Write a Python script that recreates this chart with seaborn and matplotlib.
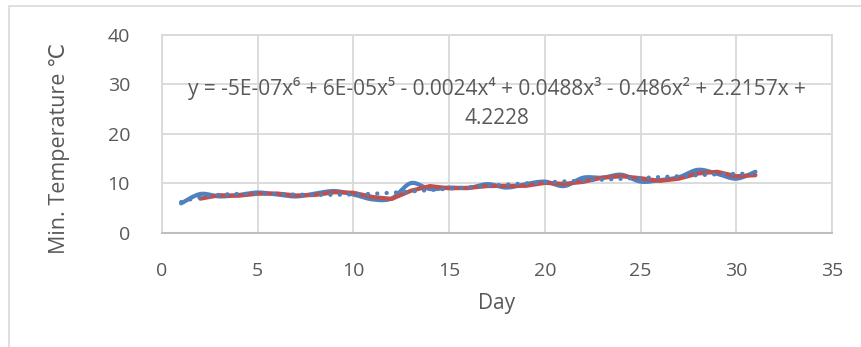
import numpy as np
import pandas as pd
import matplotlib
matplotlib.use("Agg")
import matplotlib.pyplot as plt
import seaborn as sns
from matplotlib.patches import Rectangle

# Daily minimum temperatures (°C)
days = list(range(1, 32))
min_temp = [5.9, 7.8, 7.3, 7.6, 8.1, 7.7, 7.3, 7.9, 8.4, 7.7,
            6.7, 6.9, 10.0, 8.8, 9.1, 9.0, 9.8, 9.1, 9.8, 10.3,
            9.4, 11.1, 11.1, 11.7, 10.3, 10.6, 11.2, 12.7, 11.9, 10.9,
            12.3]

x_ticks = [0, 5, 10, 15, 20, 25, 30, 35]
y_ticks = [0, 10, 20, 30, 40]
equation = ("y = -5E-07x\u2076 + 6E-05x\u2075 - 0.0024x\u2074 + 0.0488x\u00b3 - 0.486x\u00b2 + 2.2157x +\n"
            "4.2228")

BLUE = "#4F81BD"
RED = "#C0504D"
TXT = "#595959"
GRID = "#D9D9D9"
AXIS = "#BFBFBF"

sns.set_theme(style="white")
plt.rcParams["font.family"] = ["Open Sans", "DejaVu Sans"]

W, H = 862, 347
fig = plt.figure(figsize=(W / 100, H / 100), dpi=100)
ax = fig.add_axes([162 / W, (H - 232.5) / H, (832 - 162) / W, (232.5 - 35) / H])

df = pd.DataFrame({"day": days, "temp": min_temp})


def smooth_curve(x, y, n=30):
    """Catmull-Rom style Bezier smoothing through every data point."""
    x = np.asarray(x, float)
    y = np.asarray(y, float)
    px = np.concatenate([[x[0]], x, [x[-1]]])
    py = np.concatenate([[y[0]], y, [y[-1]]])
    xs, ys = [], []
    t = np.linspace(0, 1, n)[:, None]
    for i in range(1, len(px) - 2):
        p0 = np.array([px[i], py[i]])
        p3 = np.array([px[i + 1], py[i + 1]])
        c1 = p0 + (np.array([px[i + 1], py[i + 1]]) - np.array([px[i - 1], py[i - 1]])) / 6
        c2 = p3 - (np.array([px[i + 2], py[i + 2]]) - np.array([px[i], py[i]])) / 6
        pts = ((1 - t) ** 3) * p0 + 3 * ((1 - t) ** 2) * t * c1 + 3 * (1 - t) * t ** 2 * c2 + t ** 3 * p3
        xs.append(pts[:, 0])
        ys.append(pts[:, 1])
    return np.concatenate(xs), np.concatenate(ys)


sx, sy = smooth_curve(df["day"], df["temp"])
smooth_df = pd.DataFrame({"day": sx, "temp": sy})

# 2-period moving average trendline
ma_df = pd.DataFrame({"day": df["day"], "temp": df["temp"].rolling(2).mean()}).dropna()

# 6th order polynomial trendline
coef = np.polyfit(df["day"], df["temp"], 6)
fx = np.linspace(days[0], days[-1], 300)
poly_df = pd.DataFrame({"day": fx, "temp": np.polyval(coef, fx)})

sns.lineplot(data=smooth_df, x="day", y="temp", sort=False, estimator=None,
             color=BLUE, lw=3.0, ax=ax, solid_capstyle="round", zorder=3)
sns.lineplot(data=ma_df, x="day", y="temp", sort=False, estimator=None,
             color=RED, lw=3.0, ax=ax, zorder=4)
sns.lineplot(data=poly_df, x="day", y="temp", sort=False, estimator=None,
             color=BLUE, lw=3.0, ax=ax, zorder=5,
             linestyle=(0, (0.05, 2.2)), dash_capstyle="round")

ax.set_xlim(0, 35)
ax.set_ylim(0, 40)
ax.set_xticks(x_ticks)
ax.set_yticks(y_ticks)
ax.set_xticklabels([str(v) for v in x_ticks])
ax.set_yticklabels([str(v) for v in y_ticks])
ax.grid(True, color=GRID, lw=1.3)
ax.set_axisbelow(True)
for side in ["left", "right", "top"]:
    ax.spines[side].set_color(GRID)
    ax.spines[side].set_linewidth(1.3)
ax.spines["bottom"].set_color(AXIS)
ax.spines["bottom"].set_linewidth(1.5)
ax.tick_params(axis="both", length=0, labelsize=14, labelcolor=TXT)
ax.tick_params(axis="x", pad=21)
ax.tick_params(axis="y", pad=23)
ax.set_xlabel("")
ax.set_ylabel("")

fig.text(497 / W, 1 - 303 / H, "Day", ha="center", va="center", fontsize=15, color=TXT)
fig.text(60 / W, 1 - 148 / H, "Min. Temperature \u2103", ha="center", va="center",
         rotation=90, fontsize=15.5, color=TXT)

ax.text(0.5, 1 - (103 - 35) / (232.5 - 35), equation, transform=ax.transAxes,
        ha="center", va="center", fontsize=15, color=TXT, linespacing=1.5,
        zorder=6)

# chart-area frame
fig.patches.append(Rectangle((9 / W, -0.1), 1.2, 1 - 6 / H + 0.1, transform=fig.transFigure,
                             fill=False, edgecolor="#D9D9D9", lw=1.2))

fig.savefig("out.png", dpi=100)
